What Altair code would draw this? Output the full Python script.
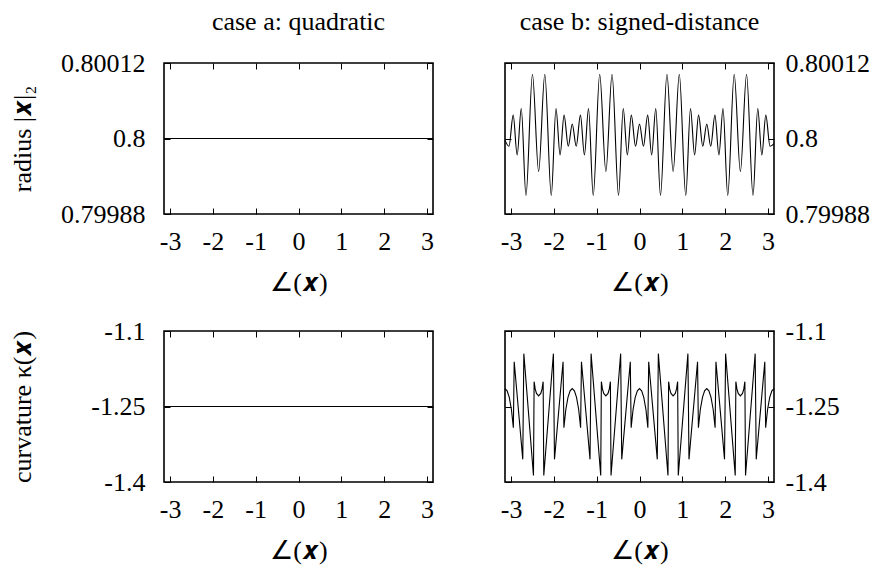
import altair as alt
import pandas as pd

FONT = "Liberation Serif"
FS = 26
W, H = 269, 151
PI_LO, PI_HI = -3.1416, 3.1416

# ---------------- data ----------------
x_ticks = [-3, -2, -1, 0, 1, 2, 3]
radius_ticks = [0.79988, 0.8, 0.80012]
curv_ticks = [-1.4, -1.25, -1.1]

# case a: quadratic (constant)
angle_a = [-3.1416, 3.1416]
radius_a = [0.8, 0.8]
curvature_a = [-1.25, -1.25]

# case b: signed-distance, radius (local extrema)
angle_b_r = [
    -3.1416, -3.0486, -2.9506, -2.8576, -2.7616, -2.6516, -2.5006, -2.3562, -2.2118, -2.0608, -1.9508, -1.8548, -1.7618, -1.6638,
    -1.5708, -1.4778, -1.3798, -1.2868, -1.1908, -1.0808, -0.9298, -0.7854, -0.6410, -0.4900, -0.3800, -0.2840, -0.1910, -0.0930,
    0.0000, 0.0930, 0.1910, 0.2840, 0.3800, 0.4900, 0.6410, 0.7854, 0.9298, 1.0808, 1.1908, 1.2868, 1.3798, 1.4778,
    1.5708, 1.6638, 1.7618, 1.8548, 1.9508, 2.0608, 2.2118, 2.3562, 2.5006, 2.6516, 2.7616, 2.8576, 2.9506, 3.0486, 3.1416,
]
radius_b = [
    0.7999970, 0.7999877, 0.8000372, 0.7999739, 0.8000478, 0.7999094, 0.8001021, 0.7999474, 0.8001021, 0.7999094, 0.8000478, 0.7999739, 0.8000372, 0.7999877,
    0.8000230, 0.7999877, 0.8000372, 0.7999739, 0.8000478, 0.7999094, 0.8001021, 0.7999474, 0.8001021, 0.7999094, 0.8000478, 0.7999739, 0.8000372, 0.7999877,
    0.8000230, 0.7999877, 0.8000372, 0.7999739, 0.8000478, 0.7999094, 0.8001021, 0.7999474, 0.8001021, 0.7999094, 0.8000478, 0.7999739, 0.8000372, 0.7999877,
    0.8000230, 0.7999877, 0.8000372, 0.7999739, 0.8000478, 0.7999094, 0.8001021, 0.7999474, 0.8001021, 0.7999094, 0.8000478, 0.7999739, 0.8000372, 0.7999877, 0.7999920,
]

# case b: signed-distance, curvature
angle_b_k = [
    -3.1416, -3.0916, -3.0416, -2.9916, -2.9466, -2.9266, -2.7266, -2.7016, -2.4766, -2.4616, -2.4366, -2.4066,
    -2.3562, -2.3058, -2.2758, -2.2508, -2.2358, -2.0108, -1.9858, -1.7858, -1.7658, -1.7208, -1.6708, -1.6208,
    -1.5708, -1.5208, -1.4708, -1.4208, -1.3758, -1.3558, -1.1558, -1.1308, -0.9058, -0.8908, -0.8658, -0.8358,
    -0.7854, -0.7350, -0.7050, -0.6800, -0.6650, -0.4400, -0.4150, -0.2150, -0.1950, -0.1500, -0.1000, -0.0500,
    0.0000, 0.0500, 0.1000, 0.1500, 0.1950, 0.2150, 0.4150, 0.4400, 0.6650, 0.6800, 0.7050, 0.7350,
    0.7854, 0.8358, 0.8658, 0.8908, 0.9058, 1.1308, 1.1558, 1.3558, 1.3758, 1.4208, 1.4708, 1.5208,
    1.5708, 1.6208, 1.6708, 1.7208, 1.7658, 1.7858, 1.9858, 2.0108, 2.2358, 2.2508, 2.2758, 2.3058,
    2.3562, 2.4066, 2.4366, 2.4616, 2.4766, 2.7016, 2.7266, 2.9266, 2.9466, 2.9916, 3.0416, 3.0916,
    3.1416,
]
curvature_b = [
    -1.2145, -1.219, -1.232, -1.256, -1.292, -1.161, -1.355, -1.145, -1.387, -1.2007, -1.215, -1.224,
    -1.229, -1.224, -1.215, -1.2007, -1.387, -1.145, -1.355, -1.161, -1.292, -1.256, -1.232, -1.219,
    -1.2145, -1.219, -1.232, -1.256, -1.292, -1.161, -1.355, -1.145, -1.387, -1.2007, -1.215, -1.224,
    -1.229, -1.224, -1.215, -1.2007, -1.387, -1.145, -1.355, -1.161, -1.292, -1.256, -1.232, -1.219,
    -1.2145, -1.219, -1.232, -1.256, -1.292, -1.161, -1.355, -1.145, -1.387, -1.2007, -1.215, -1.224,
    -1.229, -1.224, -1.215, -1.2007, -1.387, -1.145, -1.355, -1.161, -1.292, -1.256, -1.232, -1.219,
    -1.2145, -1.219, -1.232, -1.256, -1.292, -1.161, -1.355, -1.145, -1.387, -1.2007, -1.215, -1.224,
    -1.229, -1.224, -1.215, -1.2007, -1.387, -1.145, -1.355, -1.161, -1.292, -1.256, -1.232, -1.219,
    -1.2145,
]

# ---------------- helpers ----------------
XLABEL = "replace(format(datum.value, '~g'), '\u2212', '-')"
RLABEL = "replace(format(datum.value, '.5~f'), '\u2212', '-')"
KLABEL = "replace(format(datum.value, '.2~f'), '\u2212', '-')"
TICK = 6
XTITLE = "\u2220(\U0001D499)"


def x_axis(bottom, show_title):
    if bottom:
        return alt.Axis(orient="bottom", values=x_ticks, labelExpr=XLABEL, title=XTITLE if show_title else None,
                        offset=-TICK, tickSize=TICK, domain=False, grid=False, labelPadding=14,
                        titlePadding=15, labelFlush=False, labelOverlap=False)
    return alt.Axis(orient="top", values=x_ticks, labels=False, title=None, offset=-TICK, tickSize=TICK,
                    domain=False, grid=False)


def y_axis(orient, ticks, expr, labels, title=None):
    kw = dict(orient=orient, values=ticks, offset=-TICK, tickSize=TICK, domain=False, grid=False)
    if labels:
        kw.update(labelExpr=expr, labelPadding=19 if orient == "left" else 11, labelOverlap=False)
    else:
        kw.update(labels=False)
    if title:
        kw.update(title=title, titleX=-148, titleY=H / 2, titleAngle=270, titleBaseline="middle",
                  titleAlign="center")
    else:
        kw.update(title=None)
    return alt.Axis(**kw)


def panel(angles, values, ydomain, yticks, yexpr, case_b, ytitle, interp, title=None):
    df = pd.DataFrame({"angle": angles, "value": values})
    xs = alt.Scale(domain=[PI_LO, PI_HI], nice=False, zero=False)
    ys = alt.Scale(domain=ydomain, nice=False, zero=False)
    main_y_orient = "right" if case_b else "left"
    mirror_y_orient = "left" if case_b else "right"
    line = alt.Chart(df).mark_line(color="black", strokeWidth=1.1, interpolate=interp).encode(
        x=alt.X("angle:Q", scale=xs, axis=x_axis(True, True)),
        y=alt.Y("value:Q", scale=ys, axis=y_axis(main_y_orient, yticks, yexpr, True,
                                                   None if case_b else ytitle)),
    )
    mirror = alt.Chart(df).mark_line(opacity=0).encode(
        x=alt.X("angle:Q", scale=xs, axis=x_axis(False, False)),
        y=alt.Y("value:Q", scale=ys, axis=y_axis(mirror_y_orient, yticks, yexpr, False)),
    )
    ch = alt.layer(line, mirror).resolve_axis(x="independent", y="independent")
    props = dict(width=W, height=H)
    if title:
        props["title"] = alt.TitleParams(title, frame="group", anchor="middle", baseline="alphabetic",
                                         offset=-6, fontSize=FS, font=FONT, fontWeight="normal", color="black")
    return ch.properties(**props)


R_TITLE = "radius |\U0001D499|\u2082"
K_TITLE = "curvature \u03BA(\U0001D499)"

p_a1 = panel(angle_a, radius_a, [0.79988, 0.80012], radius_ticks, RLABEL, False, R_TITLE, "linear",
             "case a: quadratic")
p_b1 = panel(angle_b_r, radius_b, [0.79988, 0.80012], radius_ticks, RLABEL, True, None, "monotone",
             "case b: signed-distance")
p_a2 = panel(angle_a, curvature_a, [-1.4, -1.1], curv_ticks, KLABEL, False, K_TITLE, "linear")
p_b2 = panel(angle_b_k, curvature_b, [-1.4, -1.1], curv_ticks, KLABEL, True, None, "linear")

chart = alt.concat(p_a1, p_b1, p_a2, p_b2, columns=2,
                   spacing=alt.RowColnumber(row=21, column=63)).properties(
    padding={"left": 0, "top": 0, "right": 5, "bottom": 5}
).configure(font=FONT).configure_axis(
    labelFont=FONT, titleFont=FONT, labelFontSize=FS, titleFontSize=FS, labelColor="black",
    titleColor="black", tickColor="black", tickWidth=1, titleFontWeight="normal",
).configure_view(stroke="black", strokeWidth=1.6).configure_title(
    font=FONT, fontSize=FS, fontWeight="normal", color="black"
)

chart.save("out.html", embed_options={"renderer": "svg", "actions": False})
